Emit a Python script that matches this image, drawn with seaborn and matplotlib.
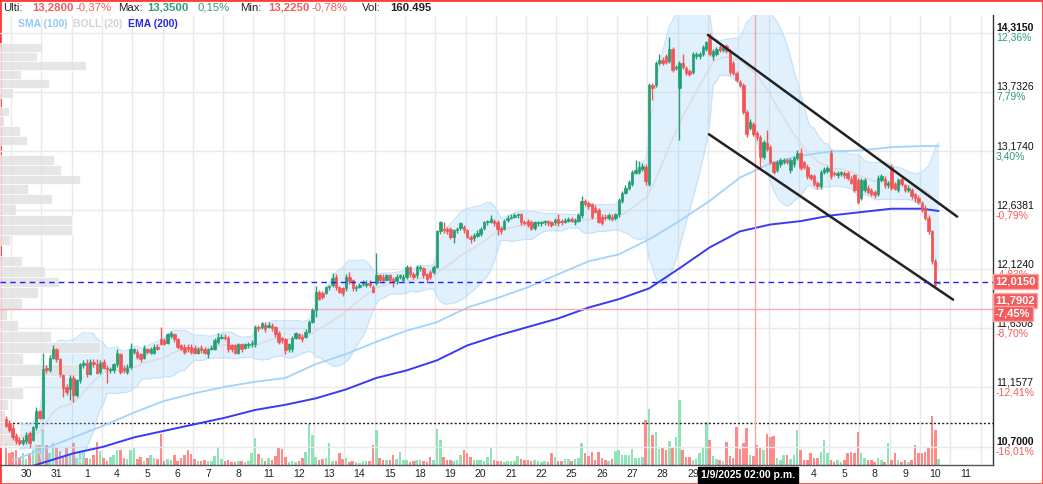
import numpy as np
import pandas as pd
import seaborn as sns
import matplotlib
matplotlib.use("Agg")
import matplotlib.pyplot as plt
import matplotlib.transforms as mtransforms
from matplotlib.patches import Rectangle
from matplotlib.ticker import NullLocator

# ---------------------------------------------------------------- data
# hourly candles, 9 per session; bar 0 = 30 jul 09:00 (two late bars of 29 jul first)
opens = [
    10.91, 10.88,
    10.84, 10.78, 10.75, 10.73, 10.74, 10.80, 10.75, 10.85, 10.97,
    10.92, 11.31, 11.29, 11.39, 11.46, 11.38, 11.25, 11.16, 11.14,
    11.23, 11.10, 11.21, 11.33, 11.35, 11.26, 11.36, 11.34, 11.28,
    11.36, 11.31, 11.29, 11.29, 11.34, 11.42, 11.31, 11.28, 11.32,
    11.44, 11.44, 11.42, 11.39, 11.46, 11.43, 11.43, 11.48, 11.54,
    11.53, 11.51, 11.57, 11.58, 11.54, 11.49, 11.48, 11.48, 11.48,
    11.47, 11.43, 11.47, 11.46, 11.42, 11.46, 11.46, 11.52, 11.55,
    11.56, 11.55, 11.49, 11.49, 11.43, 11.50, 11.47, 11.49, 11.50,
    11.50, 11.64, 11.64, 11.66, 11.64, 11.65, 11.64, 11.59, 11.55,
    11.54, 11.46, 11.46, 11.55, 11.58, 11.56, 11.56, 11.60, 11.68,
    11.78, 11.93, 11.92, 11.92, 11.97, 11.99, 12.06, 11.97, 11.96,
    11.96, 12.06, 12.03, 11.96, 11.97, 12.00, 11.99, 12.01, 11.97,
    12.01, 12.07, 12.06, 12.03, 12.07, 12.04, 12.02, 12.06, 12.03,
    12.06, 12.14, 12.08, 12.07, 12.13, 12.13, 12.08, 12.10, 12.10,
    12.14, 12.45, 12.47, 12.47, 12.47, 12.40, 12.46, 12.48, 12.49,
    12.46, 12.40, 12.39, 12.41, 12.43, 12.48, 12.53, 12.53, 12.54,
    12.53, 12.48, 12.47, 12.55, 12.57, 12.58, 12.59, 12.60, 12.53,
    12.54, 12.53, 12.48, 12.52, 12.52, 12.53, 12.54, 12.53, 12.53,
    12.56, 12.54, 12.53, 12.54, 12.56, 12.53, 12.54, 12.59, 12.72,
    12.70, 12.69, 12.66, 12.64, 12.58, 12.58, 12.57, 12.58, 12.57,
    12.60, 12.72, 12.79, 12.84, 12.87, 12.97, 12.98, 13.01, 13.03,
    12.87, 13.80, 13.80, 14.02, 14.05, 14.08, 14.04, 14.15, 13.97,
    13.77, 14.02, 13.97, 13.94, 13.93, 14.08, 14.08, 14.10, 14.15,
    14.27, 14.08, 14.10, 14.17, 14.14, 14.18, 14.13, 14.02, 13.92,
    13.83, 13.80, 13.54, 13.39, 13.43, 13.34, 13.30, 13.12, 13.25,
    13.21, 13.07, 13.00, 13.05, 13.07, 13.09, 13.00, 13.05, 13.11,
    13.16, 13.07, 13.03, 12.95, 12.94, 12.88, 12.85, 12.98, 12.99,
    13.16, 12.97, 12.95, 12.96, 12.97, 12.97, 12.92, 12.95, 12.91,
    12.75, 12.82, 12.84, 12.82, 12.80, 12.78, 12.91, 12.92, 12.86,
    13.03, 12.87, 12.82, 12.92, 12.86, 12.82, 12.82, 12.78, 12.75,
    12.70, 12.66, 12.57, 12.45, 12.19, 12.005,
]
highs = [
    10.93, 10.90,
    10.87, 10.80, 10.77, 10.77, 10.81, 10.82, 10.86, 11.00, 10.98,
    11.43, 11.33, 11.41, 11.49, 11.47, 11.39, 11.26, 11.18, 11.25,
    11.25, 11.22, 11.35, 11.37, 11.38, 11.38, 11.38, 11.38, 11.37,
    11.38, 11.33, 11.32, 11.35, 11.46, 11.43, 11.33, 11.34, 11.51,
    11.47, 11.46, 11.43, 11.49, 11.47, 11.48, 11.50, 11.50, 11.64,
    11.55, 11.59, 11.61, 11.59, 11.55, 11.50, 11.50, 11.50, 11.50,
    11.49, 11.48, 11.49, 11.48, 11.47, 11.49, 11.55, 11.59, 11.58,
    11.58, 11.57, 11.50, 11.50, 11.51, 11.51, 11.51, 11.52, 11.53,
    11.66, 11.66, 11.68, 11.68, 11.68, 11.67, 11.65, 11.61, 11.56,
    11.55, 11.51, 11.57, 11.60, 11.59, 11.58, 11.62, 11.70, 11.80,
    11.98, 11.95, 11.94, 11.98, 11.99, 12.09, 12.08, 11.98, 11.97,
    12.08, 12.10, 12.04, 11.99, 12.01, 12.03, 12.03, 12.03, 11.99,
    12.26, 12.08, 12.08, 12.08, 12.08, 12.06, 12.08, 12.08, 12.08,
    12.16, 12.15, 12.10, 12.16, 12.16, 12.14, 12.09, 12.12, 12.16,
    12.46, 12.54, 12.53, 12.49, 12.49, 12.47, 12.49, 12.53, 12.51,
    12.47, 12.42, 12.44, 12.46, 12.49, 12.54, 12.55, 12.59, 12.56,
    12.55, 12.50, 12.56, 12.59, 12.60, 12.61, 12.61, 12.61, 12.55,
    12.56, 12.55, 12.54, 12.54, 12.54, 12.55, 12.55, 12.54, 12.57,
    12.60, 12.56, 12.57, 12.58, 12.58, 12.57, 12.61, 12.76, 12.74,
    12.72, 12.70, 12.68, 12.66, 12.60, 12.60, 12.61, 12.60, 12.61,
    12.75, 12.81, 12.86, 12.91, 13.00, 13.09, 13.08, 13.06, 13.05,
    13.82, 13.82, 14.04, 14.10, 14.07, 14.10, 14.27, 14.17, 14.00,
    14.04, 14.10, 13.99, 13.96, 14.12, 14.12, 14.12, 14.19, 14.23,
    14.315, 14.15, 14.17, 14.19, 14.19, 14.20, 14.15, 14.04, 13.94,
    13.85, 13.82, 13.56, 13.47, 13.45, 13.36, 13.32, 13.28, 13.37,
    13.23, 13.08, 13.09, 13.11, 13.11, 13.11, 13.11, 13.13, 13.18,
    13.20, 13.08, 13.05, 12.96, 12.96, 12.90, 13.00, 13.03, 13.04,
    13.18, 12.99, 12.99, 12.99, 12.99, 12.99, 12.94, 12.96, 12.93,
    12.93, 12.93, 12.86, 12.84, 12.82, 12.95, 12.96, 12.94, 12.90,
    13.05, 12.89, 12.93, 12.94, 12.87, 12.86, 12.84, 12.79, 12.77,
    12.72, 12.68, 12.59, 12.46, 12.21, 12.02,
]
lows = [
    10.85, 10.81,
    10.75, 10.72, 10.71, 10.71, 10.72, 10.70, 10.74, 10.83, 10.91,
    10.91, 11.27, 11.28, 11.38, 11.36, 11.24, 11.08, 11.10, 11.06,
    11.04, 11.08, 11.19, 11.31, 11.24, 11.25, 11.32, 11.26, 11.26,
    11.30, 11.19, 11.27, 11.27, 11.32, 11.26, 11.27, 11.26, 11.30,
    11.42, 11.38, 11.36, 11.38, 11.42, 11.42, 11.42, 11.45, 11.49,
    11.49, 11.50, 11.55, 11.52, 11.46, 11.45, 11.42, 11.44, 11.42,
    11.42, 11.42, 11.43, 11.42, 11.39, 11.45, 11.45, 11.50, 11.54,
    11.53, 11.44, 11.44, 11.42, 11.42, 11.44, 11.46, 11.47, 11.48,
    11.48, 11.61, 11.62, 11.60, 11.63, 11.61, 11.56, 11.50, 11.51,
    11.42, 11.44, 11.44, 11.54, 11.54, 11.52, 11.55, 11.59, 11.67,
    11.72, 11.86, 11.87, 11.91, 11.95, 11.97, 11.95, 11.92, 11.90,
    11.94, 12.00, 11.94, 11.94, 11.96, 11.98, 11.97, 11.97, 11.92,
    11.99, 12.02, 12.01, 12.02, 12.01, 11.97, 12.00, 12.04, 12.02,
    12.04, 12.06, 12.04, 12.05, 12.11, 12.05, 12.01, 12.04, 12.08,
    12.13, 12.43, 12.44, 12.43, 12.38, 12.35, 12.44, 12.46, 12.44,
    12.39, 12.35, 12.37, 12.40, 12.41, 12.46, 12.51, 12.52, 12.50,
    12.42, 12.43, 12.46, 12.53, 12.56, 12.57, 12.57, 12.51, 12.51,
    12.49, 12.46, 12.46, 12.50, 12.50, 12.51, 12.50, 12.49, 12.51,
    12.50, 12.51, 12.52, 12.53, 12.53, 12.51, 12.53, 12.57, 12.67,
    12.65, 12.56, 12.61, 12.52, 12.51, 12.55, 12.55, 12.54, 12.55,
    12.58, 12.70, 12.78, 12.82, 12.85, 12.96, 12.96, 12.99, 12.86,
    12.85, 13.66, 13.78, 14.00, 14.00, 14.01, 14.02, 13.93, 13.95,
    13.28, 13.96, 13.90, 13.89, 13.91, 14.06, 14.06, 14.08, 14.13,
    14.08, 14.05, 14.08, 14.12, 14.12, 14.11, 13.90, 13.90, 13.83,
    13.78, 13.52, 13.30, 13.37, 13.31, 13.28, 13.03, 13.10, 13.17,
    13.05, 12.96, 12.98, 13.03, 13.05, 13.05, 12.97, 13.03, 13.09,
    13.00, 13.01, 12.92, 12.91, 12.85, 12.83, 12.83, 12.96, 12.97,
    12.92, 12.94, 12.93, 12.94, 12.93, 12.91, 12.87, 12.80, 12.69,
    12.73, 12.80, 12.78, 12.76, 12.75, 12.76, 12.89, 12.84, 12.84,
    12.82, 12.82, 12.80, 12.85, 12.80, 12.80, 12.74, 12.71, 12.69,
    12.62, 12.55, 12.43, 12.17, 11.97, 12.00,
]
closes = [
    10.86, 10.83,
    10.77, 10.74, 10.73, 10.75, 10.79, 10.73, 10.85, 10.97, 10.92,
    11.30, 11.29, 11.39, 11.46, 11.38, 11.26, 11.15, 11.12, 11.23,
    11.10, 11.21, 11.34, 11.35, 11.26, 11.36, 11.34, 11.27, 11.35,
    11.31, 11.30, 11.30, 11.34, 11.43, 11.28, 11.29, 11.32, 11.46,
    11.46, 11.40, 11.38, 11.47, 11.44, 11.46, 11.48, 11.46, 11.50,
    11.50, 11.58, 11.59, 11.54, 11.48, 11.46, 11.44, 11.46, 11.44,
    11.43, 11.46, 11.45, 11.43, 11.46, 11.47, 11.53, 11.56, 11.56,
    11.55, 11.46, 11.46, 11.43, 11.50, 11.46, 11.50, 11.50, 11.51,
    11.64, 11.63, 11.67, 11.62, 11.66, 11.63, 11.58, 11.52, 11.53,
    11.45, 11.50, 11.55, 11.59, 11.55, 11.54, 11.60, 11.68, 11.78,
    11.93, 11.87, 11.89, 11.97, 11.98, 12.05, 11.97, 11.93, 11.92,
    12.06, 12.02, 11.96, 11.97, 11.99, 12.01, 12.01, 11.99, 11.93,
    12.07, 12.03, 12.03, 12.07, 12.03, 12.02, 12.06, 12.07, 12.06,
    12.14, 12.08, 12.06, 12.14, 12.14, 12.07, 12.04, 12.06, 12.14,
    12.45, 12.53, 12.46, 12.45, 12.40, 12.46, 12.47, 12.52, 12.46,
    12.40, 12.38, 12.42, 12.44, 12.47, 12.53, 12.54, 12.56, 12.52,
    12.47, 12.45, 12.54, 12.57, 12.58, 12.59, 12.60, 12.53, 12.52,
    12.51, 12.47, 12.53, 12.53, 12.53, 12.54, 12.52, 12.51, 12.55,
    12.52, 12.53, 12.55, 12.56, 12.54, 12.55, 12.59, 12.72, 12.69,
    12.67, 12.58, 12.62, 12.53, 12.52, 12.57, 12.59, 12.56, 12.60,
    12.73, 12.79, 12.84, 12.89, 12.98, 13.00, 13.03, 13.04, 12.90,
    13.80, 13.77, 14.02, 14.05, 14.02, 14.03, 14.15, 13.95, 13.98,
    14.02, 13.98, 13.92, 13.91, 14.10, 14.10, 14.10, 14.17, 14.22,
    14.10, 14.13, 14.15, 14.14, 14.17, 14.13, 13.93, 13.92, 13.85,
    13.80, 13.54, 13.33, 13.45, 13.33, 13.30, 13.12, 13.26, 13.19,
    13.07, 12.98, 13.07, 13.09, 13.09, 13.07, 13.09, 13.11, 13.16,
    13.02, 13.03, 12.94, 12.93, 12.87, 12.85, 12.98, 13.01, 13.02,
    12.94, 12.96, 12.97, 12.98, 12.95, 12.93, 12.88, 12.82, 12.71,
    12.91, 12.91, 12.80, 12.78, 12.77, 12.93, 12.94, 12.86, 12.88,
    12.84, 12.83, 12.91, 12.87, 12.82, 12.84, 12.76, 12.75, 12.71,
    12.64, 12.57, 12.45, 12.19, 11.99, 12.015,
]
# volume per bar, thousands of shares
volumes = [
    550, 300,
    325, 375, 200, 300, 150, 300, 375, 500, 500,
    900, 500, 300, 550, 450, 350, 200, 425, 250,
    550, 175, 350, 375, 175, 150, 250, 575, 350,
    175, 100, 200, 250, 375, 375, 175, 150, 375,
    425, 150, 200, 100, 175, 250, 175, 150, 775,
    100, 150, 125, 250, 100, 175, 250, 375, 275,
    150, 100, 100, 125, 100, 100, 225, 425, 150,
    100, 125, 75, 75, 100, 100, 75, 100, 300,
    675, 275, 175, 100, 175, 125, 225, 425, 400,
    200, 75, 100, 75, 100, 175, 325, 1025, 750,
    200, 125, 150, 175, 550, 100, 100, 300, 150,
    175, 75, 100, 75, 50, 100, 100, 100, 500,
    875, 175, 125, 125, 125, 250, 150, 325, 125,
    125, 75, 100, 125, 125, 100, 75, 200, 125,
    900, 625, 200, 125, 125, 100, 125, 250, 375,
    300, 200, 125, 125, 125, 100, 200, 425, 125,
    100, 100, 75, 100, 100, 100, 225, 150, 125,
    125, 100, 125, 100, 75, 100, 75, 300, 200,
    100, 100, 150, 150, 100, 150, 175, 550, 300,
    225, 325, 125, 325, 175, 125, 100, 150, 350,
    375, 250, 250, 250, 400, 175, 175, 200, 1125,
    1400, 750, 825, 400, 450, 375, 600, 425, 700,
    1625, 375, 200, 200, 125, 150, 300, 425, 1075,
    625, 225, 150, 125, 100, 575, 225, 175, 950,
    400, 550, 925, 250, 225, 500, 425, 375, 775,
    700, 725, 175, 125, 250, 250, 150, 250, 875,
    375, 125, 125, 300, 175, 175, 325, 625, 300,
    125, 75, 125, 75, 125, 300, 325, 300, 825,
    300, 175, 125, 125, 75, 175, 125, 75, 550,
    125, 300, 125, 75, 125, 75, 125, 500, 300,
    300, 325, 425, 1225, 875, 160.495,
]
vol_ref_line = 1060

day_labels = ["30", "31", "1", "4", "5", "6", "7", "8", "11", "12", "13", "14",
              "15", "18", "19", "20", "21", "22", "25", "26", "27", "28", "29",
              "1", "2", "3", "4", "5", "8", "9", "10", "11"]

# moving averages read at each session start (+ last bar)
sma100 = [10.60, 10.68, 10.77, 10.86, 10.96, 11.05, 11.11, 11.16, 11.20, 11.23,
          11.34, 11.42, 11.52, 11.61, 11.68, 11.80, 11.88, 11.97, 12.08, 12.19,
          12.25, 12.38, 12.54, 12.72, 12.93, 13.06, 13.13, 13.17, 13.18, 13.21,
          13.22, 13.22]
ema200 = [10.51, 10.58, 10.65, 10.70, 10.77, 10.82, 10.87, 10.92, 10.98, 11.02,
          11.07, 11.14, 11.23, 11.29, 11.37, 11.49, 11.57, 11.64, 11.71, 11.80,
          11.87, 11.96, 12.13, 12.31, 12.45, 12.51, 12.54, 12.59, 12.62, 12.65,
          12.65, 12.63]

# volume profile, 0.09 wide price bins from 14.218 down
profile_top = 14.218
profile_step = 0.09
profile_vol = [42, 37, 86, 21, 49, 13, 0, 9, 4, 20, 27, 0, 54, 61, 80, 28, 52, 16,
               72, 72, 10, 0, 22, 45, 59, 38, 22, 7, 18, 51, 100, 23, 82, 12, 23,
               8, 5, 12, 20]

price_levels = [14.3150, 13.7326, 13.1740, 12.6381, 12.1240, 11.6308, 11.1577, 10.7000]
price_texts = ["14,3150", "13,7326", "13,1740", "12,6381", "12,1240", "11,6308",
               "11,1577", "10,7000"]
pct_texts = ["12,36%", "7,79%", "3,40%", "-0,79%", "-4,83%", "-8,70%", "-12,41%", "-16,01%"]

last_price = 12.015
cross_price = 11.7902
cross_bar = 220.5
channel_hi = ([206.5, 280.5], [14.295, 12.58])
channel_lo = ([206.8, 279.3], [13.33, 11.866])

header = [("Ulti:", "13,2800", "-0,37%", "#f25c5c"),
          ("Max:", "13,3500", "0,15%", "#2e9e6e"),
          ("Min:", "13,2250", "-0,78%", "#f25c5c")]

# ---------------------------------------------------------------- style
sns.set_theme(style="white")
plt.rcParams["font.family"] = ["Liberation Sans", "DejaVu Sans"]

GREEN, RED = "#23a073", "#f45454"
VGREEN, VRED = "#8fe3b6", "#ff8a8a"

W, H = 1043, 484
PLOT_TOP, PLOT_BOT, PLOT_RIGHT = 15, 465, 993
BAR_PX = 3.367          # horizontal pixels per hourly bar
FIRST_PX = 11           # pixel of the 30 jul session start

fig = plt.figure(figsize=(W / 100, H / 100), dpi=100)
fig.patch.set_facecolor("white")
ax = fig.add_axes([0, (H - PLOT_BOT) / H, PLOT_RIGHT / W, (PLOT_BOT - PLOT_TOP) / H])
axv = ax.twinx()
ax.set_zorder(2)
axv.set_zorder(1)
ax.patch.set_visible(False)
axv.set_facecolor("white")

n = len(closes)
x = np.arange(n) - 2
o = np.array(opens); c = np.array(closes)
hi = np.array(highs); lo = np.array(lows)
up = c >= o

xmin = -FIRST_PX / BAR_PX - 0.5
xmax = (PLOT_RIGHT - FIRST_PX) / BAR_PX - 0.5
ax.set_xlim(xmin, xmax)
ax.set_yscale("log")
ax.set_ylim(10.563, 14.497)

# grid
bounds = np.arange(0, 34) * 9 - 0.5
axv.vlines(bounds, 0, 1, transform=axv.get_xaxis_transform(), colors="#e8e8e8", lw=1, zorder=0)
for p in price_levels:
    ax.axhline(p, color="#e9e9e9", lw=1, zorder=0.5)

# volume
axv.bar(x, volumes, width=0.75, color=np.where(up, VGREEN, VRED), zorder=2, lw=0)
axv.set_ylim(0, 11250)
axv.axhline(vol_ref_line, color="#222222", ls=(0, (1.5, 1.5)), lw=1, zorder=3)
axv.set_yticks([])
for sp in axv.spines.values():
    sp.set_visible(False)

# bollinger 20
s = pd.Series(closes)
mid = s.rolling(20, min_periods=5).mean()
sd = s.rolling(20, min_periods=5).std(ddof=0)
ok = mid.notna().values
b_up = (mid + 2 * sd).values
b_lo = (mid - 2 * sd).values
ax.fill_between(x[ok], b_lo[ok], b_up[ok], color="#90caf9", alpha=0.27, lw=0, zorder=1)
ax.plot(x[ok], b_up[ok], color="#c4e1f8", lw=0.8, zorder=1.1)
ax.plot(x[ok], b_lo[ok], color="#c4e1f8", lw=0.8, zorder=1.1)
sns.lineplot(x=x[ok], y=mid.values[ok], ax=ax, color="#dcdcdc", lw=1.1, zorder=1.2)

# volume profile
ptop = profile_top - profile_step * np.arange(len(profile_vol))
ax.barh(ptop - profile_step, np.array(profile_vol) / BAR_PX, height=profile_step,
        left=xmin, align="edge", color="#e2e2e2", alpha=0.85,
        edgecolor="white", lw=0.6, zorder=1.5)

# moving averages
ma_x = list(range(0, 271, 9)) + [275]
sns.lineplot(x=ma_x, y=sma100, ax=ax, color="#a3d3fa", lw=1.3, zorder=2)
sns.lineplot(x=ma_x, y=ema200, ax=ax, color="#3a3af2", lw=1.4, zorder=2.1)

# candles
cols = np.where(up, GREEN, RED)
ax.vlines(x, lo, hi, colors=cols, lw=1, zorder=3)
ax.bar(x, np.abs(c - o), bottom=np.minimum(o, c), width=0.72, color=cols,
       edgecolor=cols, lw=0.5, zorder=4)

# channel
ax.plot(*channel_hi, color="#222222", lw=1.8, zorder=5)
ax.plot(*channel_lo, color="#222222", lw=1.8, zorder=5)

# last price + crosshair
ax.axhline(last_price, color="#2020ff", ls=(0, (4, 3)), lw=1, zorder=5)
ax.axhline(cross_price, color="#f2b0b0", lw=1, zorder=2.5)
ax.axvline(cross_bar, color="#f6a5a5", lw=1, zorder=2.5)

# axes cosmetics
ax.set_yticks(price_levels)
ax.yaxis.set_minor_locator(NullLocator())
ax.tick_params(axis="y", length=0, labelleft=False, labelright=False)
tick_pos = np.arange(len(day_labels)) * 9 + 4
ax.set_xticks(tick_pos)
ax.set_xticklabels(day_labels, fontsize=7.5, color="#222222")
ax.tick_params(axis="x", length=0, pad=3)
ax.grid(False)
ax.set_ylabel("")
for side in ("left", "top"):
    ax.spines[side].set_visible(False)
ax.spines["right"].set_color("#333333")
ax.spines["bottom"].set_color("#555555")
ax.spines["right"].set_linewidth(1)
ax.spines["bottom"].set_linewidth(1)

# day labels covered by the crosshair date box are not shown (as in the app)
box_center = cross_bar - 7 / BAR_PX
box_half = 46 / BAR_PX
for t, pos in zip(ax.get_xticklabels(), tick_pos):
    if abs(pos - box_center) < box_half + 1:
        t.set_visible(False)

# right scale texts
trans = mtransforms.blended_transform_factory(ax.transAxes, ax.transData)
for i, (p, t, pc) in enumerate(zip(price_levels, price_texts, pct_texts)):
    bold = i in (0, len(price_levels) - 1)
    ax.text(1.003, p, t, transform=trans, ha="left", va="bottom", fontsize=7.5,
            color="#111111", fontweight="bold" if bold else "normal", zorder=6)
    ax.text(1.003, p, pc, transform=trans, ha="left", va="top", fontsize=7.5,
            color="#2e9e6e" if not pc.startswith("-") else "#f25c5c", zorder=6)

tag = dict(boxstyle="square,pad=0.22", fc="#f45b5b", ec="#f8a8a8", lw=1)
ax.text(1.002, last_price, "12,0150", transform=trans, ha="left", va="center",
        fontsize=8, color="white", fontweight="bold", bbox=tag, zorder=8)
ax.annotate("11,7902", xy=(1.002, cross_price), xycoords=trans, xytext=(0, 8),
            textcoords="offset pixels", ha="left", va="center", fontsize=8,
            color="white", fontweight="bold", bbox=tag, annotation_clip=False, zorder=8)
ax.annotate("-7,45%", xy=(1.002, cross_price), xycoords=trans, xytext=(0, -5),
            textcoords="offset pixels", ha="left", va="center", fontsize=8,
            color="white", fontweight="bold", bbox=tag, annotation_clip=False, zorder=8)

ax.annotate("1/9/2025 02:00 p.m.", xy=(cross_bar, 0), xycoords=("data", "axes fraction"),
            xytext=(-7, -10), textcoords="offset pixels", ha="center", va="center",
            fontsize=7.5, color="white", fontweight="bold",
            bbox=dict(boxstyle="square,pad=0.25", fc="black", ec="black"),
            annotation_clip=False, zorder=9)

# header
hx = [(3, 32, 75), (118, 147, 198), (240, 268, 312)]
for (lab, val, pct, col), (x0, x1, x2) in zip(header, hx):
    fig.text(x0 / W, 1 - 8 / H, lab, fontsize=8.2, color="#222222", va="center")
    fig.text(x1 / W, 1 - 8 / H, val, fontsize=8.2, color=col, va="center", fontweight="bold")
    fig.text(x2 / W, 1 - 8 / H, pct, fontsize=8.2, color=col, va="center")
fig.text(362 / W, 1 - 8 / H, "Vol:", fontsize=8.2, color="#222222", va="center")
fig.text(390 / W, 1 - 8 / H, "160.495", fontsize=8.2, color="#222222", va="center",
         fontweight="bold")

fig.text(18 / W, 1 - 24 / H, "SMA (100)", fontsize=7.5, color="#90caf9", va="center",
         fontweight="bold")
fig.text(73 / W, 1 - 24 / H, "BOLL (20)", fontsize=7.5, color="#d3d3d3", va="center",
         fontweight="bold")
fig.text(128 / W, 1 - 24 / H, "EMA (200)", fontsize=7.5, color="#2828e6", va="center",
         fontweight="bold")

fig.add_artist(Rectangle((0, 0), 1, 1, transform=fig.transFigure, fill=False,
                         ec="#ff3b3b", lw=2))

fig.savefig("out.png", dpi=100)
